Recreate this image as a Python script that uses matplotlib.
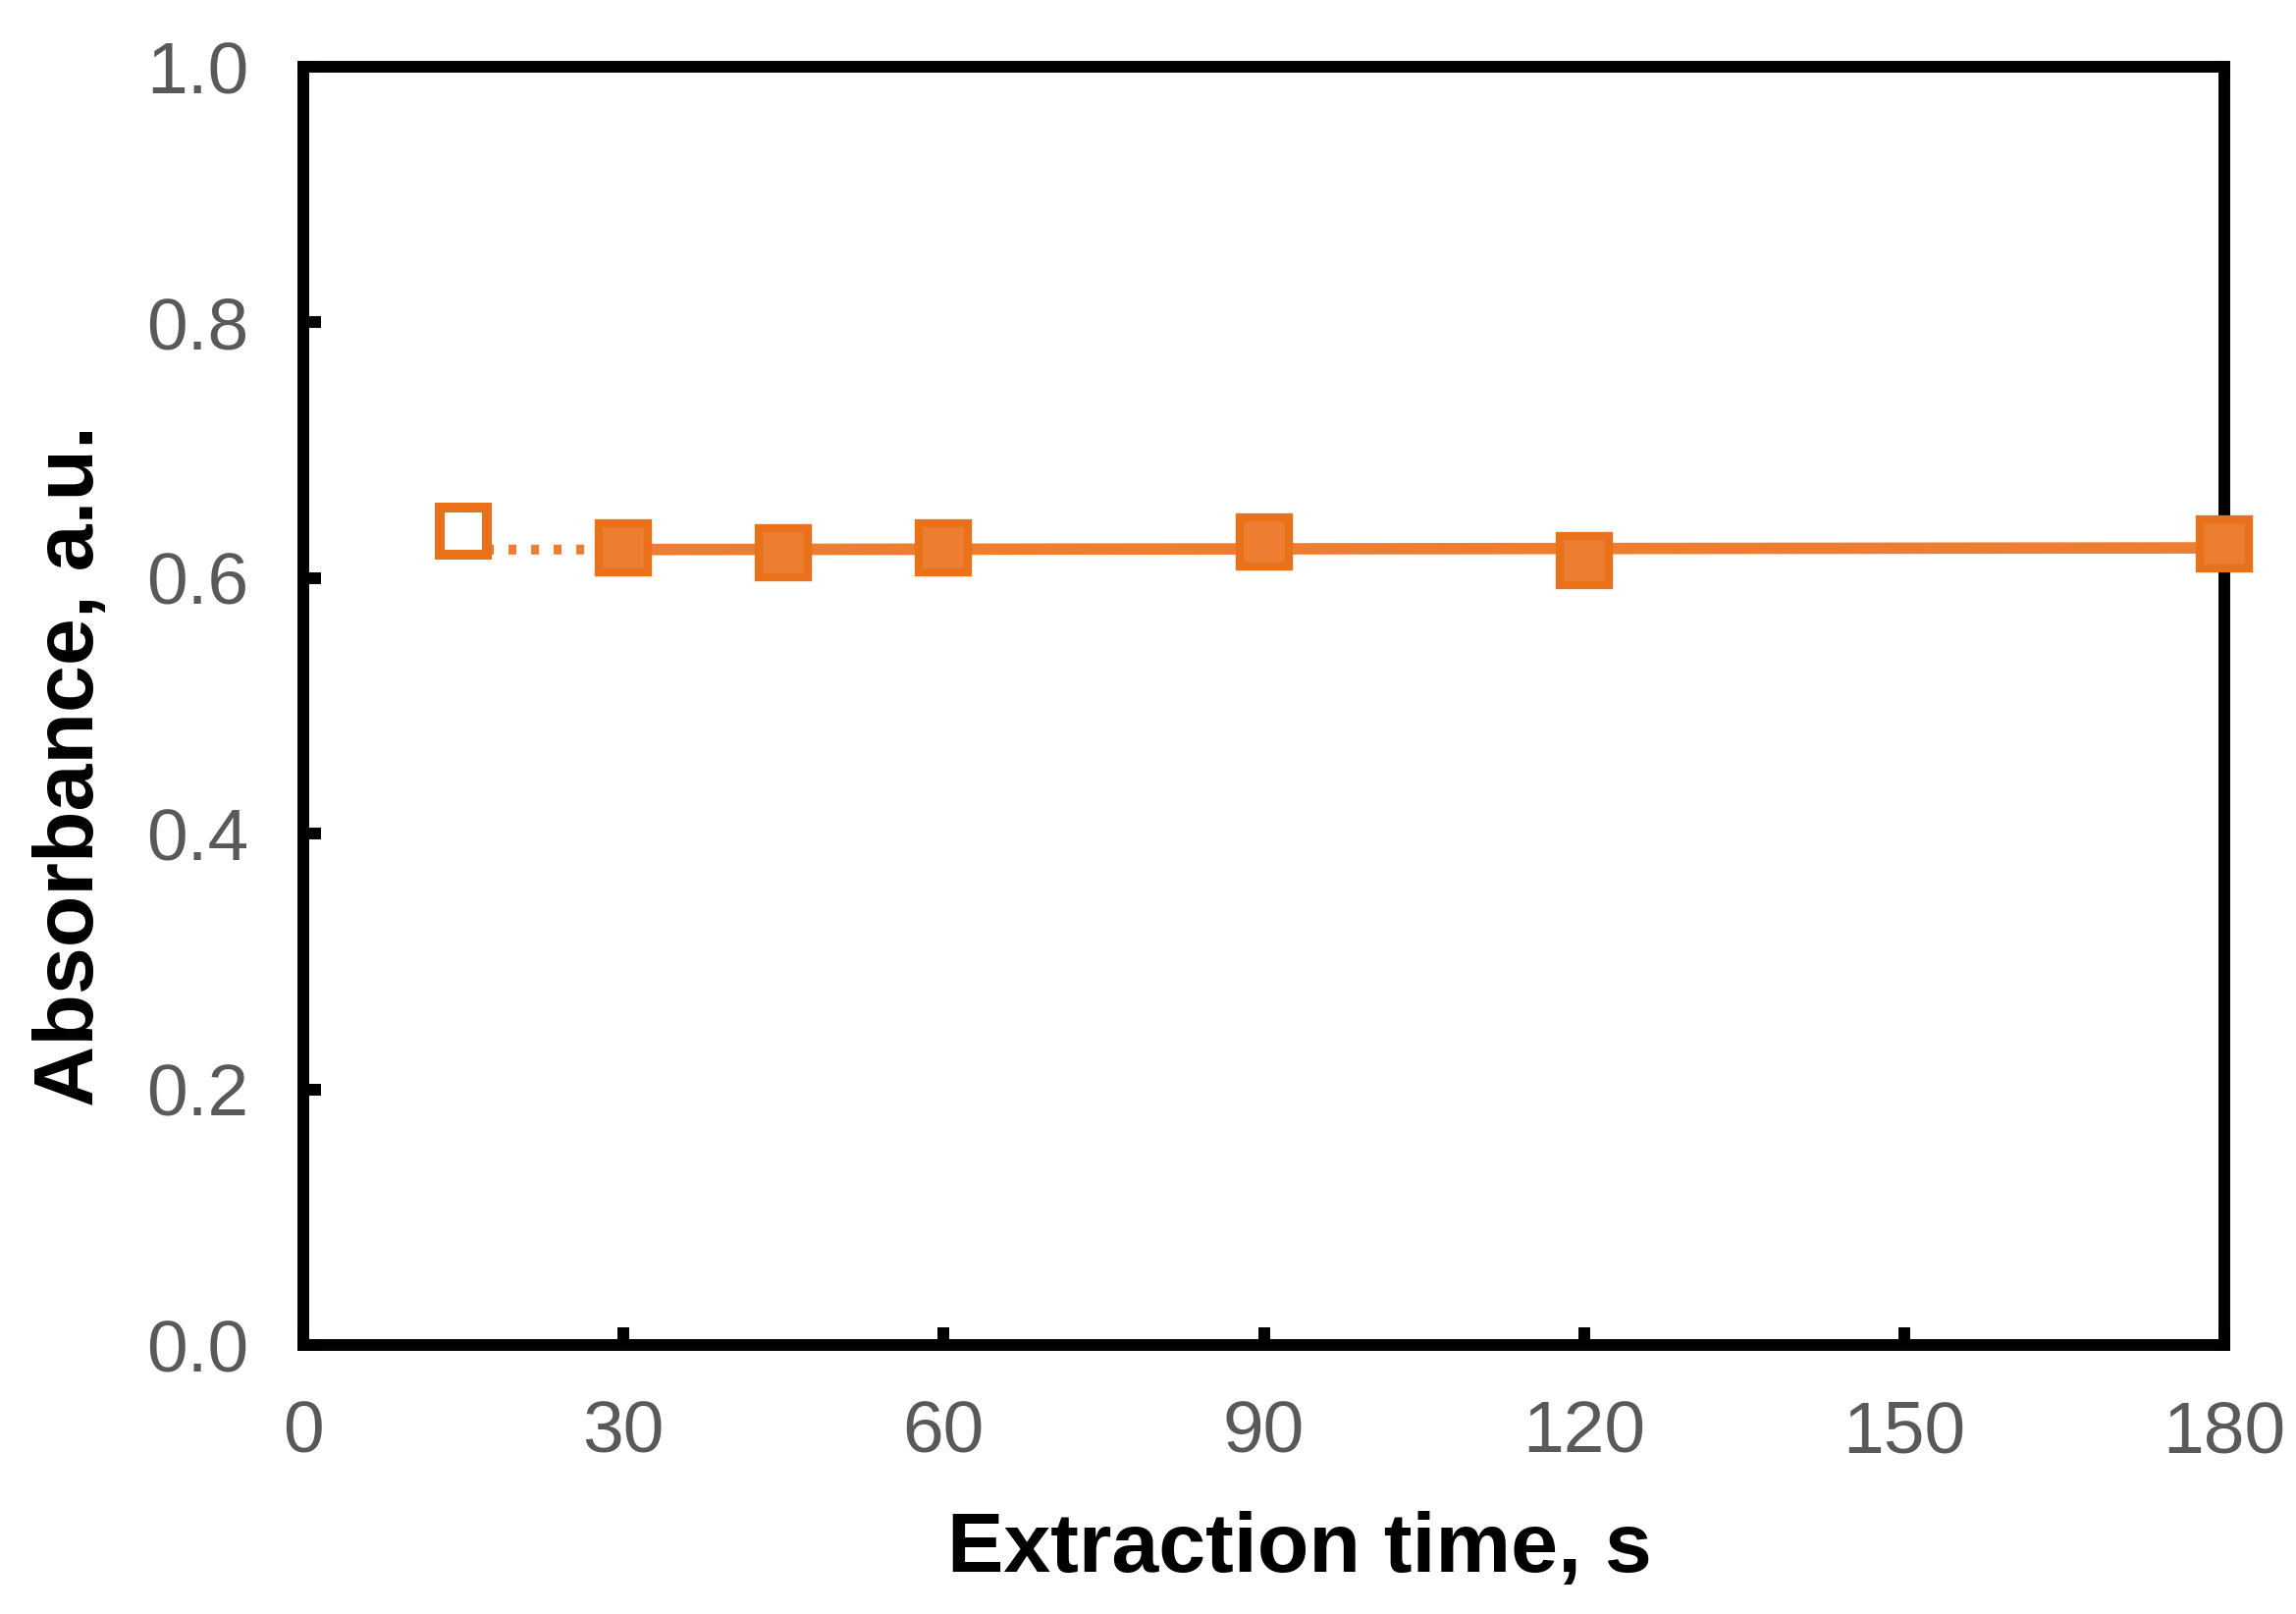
import numpy as np
import matplotlib
matplotlib.use("Agg")
import matplotlib.pyplot as plt

# data
time_open = [15]
abs_open = [0.637]
time_s = [30, 45, 60, 90, 120, 180]
absorbance = [0.624, 0.620, 0.624, 0.628, 0.614, 0.627]

x_ticks = [0, 30, 60, 90, 120, 150, 180]
y_ticks = [0.0, 0.2, 0.4, 0.6, 0.8, 1.0]

orange = "#ED7D31"
orange_edge = "#E8711A"
grey = "#595959"

fig = plt.figure(figsize=(11.695, 8.22), dpi=200)
ax = fig.add_axes([309 / 2339, 1 - 1370 / 1644, 1957 / 2339, 1302 / 1644])

# linear trend through the filled points, solid over the data, dotted back to 15 s
coef = np.polyfit(time_s, absorbance, 1)
trend = np.poly1d(coef)
ax.plot([time_s[0], time_s[-1]], trend([time_s[0], time_s[-1]]),
        color=orange, lw=4.2, zorder=3, clip_on=False)
ax.plot([time_open[0], time_s[0]], trend([time_open[0], time_s[0]]),
        color=orange, lw=3.6, linestyle=(0, (0.8, 1.5)), zorder=3)

ax.plot(time_s, absorbance, linestyle="none", marker="s", markersize=18,
        markerfacecolor=orange, markeredgecolor=orange_edge, markeredgewidth=3,
        zorder=5, clip_on=False)
ax.plot(time_open, abs_open, linestyle="none", marker="s", markersize=17.4,
        markerfacecolor="white", markeredgecolor=orange_edge, markeredgewidth=3.6,
        zorder=5, clip_on=False)

ax.set_xlim(0, 180)
ax.set_ylim(0, 1.0)
ax.set_xticks(x_ticks)
ax.set_yticks(y_ticks)
ax.set_yticklabels([f"{v:.1f}" for v in y_ticks])

for sp in ax.spines.values():
    sp.set_linewidth(4.3)
    sp.set_color("black")

ax.tick_params(direction="in", length=6.5, width=4.3, color="black",
               labelsize=27, labelcolor=grey, pad=20)
for lab in ax.get_xticklabels() + ax.get_yticklabels():
    lab.set_family(["Liberation Sans", "DejaVu Sans"])

ax.set_xlabel("Extraction time, s", fontsize=31, fontweight="bold",
              family=["Liberation Sans", "DejaVu Sans"])
ax.set_ylabel("Absorbance, a.u.", fontsize=31, fontweight="bold",
              family=["Liberation Sans", "DejaVu Sans"])
ax.xaxis.set_label_coords((1324 - 309) / 1957, -0.13)
ax.yaxis.set_label_coords(-0.10, 0.453)

fig.savefig("out.png", dpi=200)
